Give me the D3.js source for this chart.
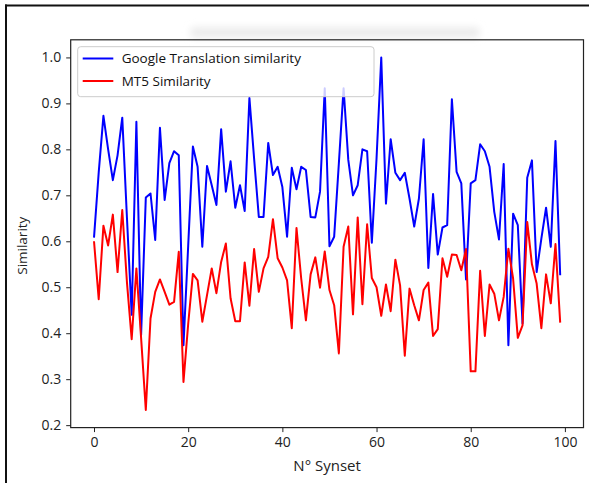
<!DOCTYPE html>
<html>
<head>
<meta charset="utf-8">
<script src="https://cdn.jsdelivr.net/npm/d3@7"></script>
<style>
  html, body { margin: 0; padding: 0; background: #fff; }
  svg { display: block; }
</style>
</head>
<body>
<svg id="chart" width="589" height="483"></svg>
<script>
// ---- data ----
const synsetIndex = d3.range(0, 100);
const googleSimilarity = [
  0.608, 0.75, 0.873, 0.80, 0.733, 0.787, 0.869, 0.65, 0.44, 0.86,
  0.396, 0.695, 0.704, 0.603, 0.847, 0.69, 0.77, 0.796, 0.787, 0.374,
  0.59, 0.806, 0.762, 0.588, 0.764, 0.722, 0.679, 0.844, 0.708, 0.774,
  0.673, 0.722, 0.666, 0.912, 0.78, 0.653, 0.653, 0.814, 0.744, 0.762,
  0.718, 0.61, 0.76, 0.713, 0.762, 0.755, 0.653, 0.652, 0.708, 0.933,
  0.589, 0.61, 0.77, 0.933, 0.777, 0.70, 0.722, 0.80, 0.796, 0.597,
  0.78, 1.0, 0.682, 0.822, 0.749, 0.733, 0.749, 0.693, 0.632, 0.693,
  0.822, 0.542, 0.703, 0.571, 0.63, 0.635, 0.909, 0.751, 0.726, 0.517,
  0.726, 0.733, 0.811, 0.796, 0.762, 0.664, 0.604, 0.768, 0.374, 0.66,
  0.635, 0.421, 0.738, 0.776, 0.533, 0.606, 0.673, 0.588, 0.818, 0.526
];
const mt5Similarity = [
  0.60, 0.474, 0.634, 0.591, 0.658, 0.533, 0.668, 0.51, 0.387, 0.541,
  0.39, 0.233, 0.432, 0.49, 0.517, 0.49, 0.462, 0.468, 0.577, 0.294,
  0.42, 0.529, 0.515, 0.425, 0.483, 0.541, 0.487, 0.555, 0.595, 0.476,
  0.426, 0.426, 0.554, 0.46, 0.583, 0.49, 0.541, 0.566, 0.648, 0.563,
  0.543, 0.515, 0.411, 0.629, 0.519, 0.428, 0.528, 0.565, 0.499, 0.578,
  0.494, 0.461, 0.356, 0.588, 0.632, 0.441, 0.652, 0.463, 0.637, 0.52,
  0.50, 0.438, 0.506, 0.448, 0.56, 0.504, 0.351, 0.497, 0.461, 0.428,
  0.494, 0.51, 0.394, 0.409, 0.563, 0.523, 0.571, 0.57, 0.537, 0.583,
  0.317, 0.317, 0.536, 0.394, 0.506, 0.486, 0.428, 0.479, 0.584, 0.519,
  0.39, 0.417, 0.642, 0.55, 0.508, 0.411, 0.528, 0.465, 0.594, 0.423
];
const xTicks = [0, 20, 40, 60, 80, 100];
const yTicks = [0.2, 0.3, 0.4, 0.5, 0.6, 0.7, 0.8, 0.9, 1.0];
const seriesNames = ["Google Translation similarity", "MT5 Similarity"];
const seriesColors = ["#0000ff", "#ff0000"];
const xLabel = "N° Synset";
const yLabel = "Similarity";

// ---- layout ----
const FONT = "'Open Sans', sans-serif";
const plot = { left: 70.7, right: 583.5, top: 39.8, bottom: 427.6 };
const svg = d3.select("#chart");

// outer image border (top & left)
svg.append("line").attr("x1", 5).attr("x2", 589).attr("y1", 5.5).attr("y2", 5.5)
  .attr("stroke", "#111").attr("stroke-width", 2);
svg.append("line").attr("x1", 6).attr("x2", 6).attr("y1", 4.5).attr("y2", 483)
  .attr("stroke", "#111").attr("stroke-width", 2);

// faint blurred smudge above the plot
const defs = svg.append("defs");
defs.append("filter").attr("id", "blur").attr("x", "-20%").attr("y", "-100%")
  .attr("width", "140%").attr("height", "300%")
  .append("feGaussianBlur").attr("stdDeviation", 3.5);
svg.append("rect").attr("x", 190).attr("y", 27).attr("width", 290).attr("height", 11)
  .attr("rx", 5).attr("fill", "#ececec").attr("filter", "url(#blur)");

// scales with matplotlib-like 5% margins
const allY = googleSimilarity.concat(mt5Similarity);
const [xmin, xmax] = d3.extent(synsetIndex);
const [ymin, ymax] = d3.extent(allY);
const xpad = (xmax - xmin) * 0.05, ypad = (ymax - ymin) * 0.05;
const x = d3.scaleLinear().domain([xmin - xpad, xmax + xpad]).range([plot.left, plot.right]);
const y = d3.scaleLinear().domain([ymin - ypad, ymax + ypad]).range([plot.bottom, plot.top]);

// lines
const lineGen = d3.line().x((d, i) => x(synsetIndex[i])).y(d => y(d));
[googleSimilarity, mt5Similarity].forEach((data, k) => {
  svg.append("path").datum(data)
    .attr("d", lineGen)
    .attr("fill", "none")
    .attr("stroke", seriesColors[k])
    .attr("stroke-width", 2)
    .attr("stroke-linejoin", "round")
    .attr("stroke-linecap", "butt");
});

// axes
const xAxis = svg.append("g").attr("transform", `translate(0,${plot.bottom})`)
  .call(d3.axisBottom(x).tickValues(xTicks).tickSize(4.5).tickPadding(5).tickFormat(d3.format("d")));
const yAxis = svg.append("g").attr("transform", `translate(${plot.left},0)`)
  .call(d3.axisLeft(y).tickValues(yTicks).tickSize(4.5).tickPadding(5).tickFormat(d3.format(".1f")));
[xAxis, yAxis].forEach(g => {
  g.select(".domain").remove();
  g.selectAll(".tick line").attr("stroke", "#222").attr("stroke-width", 1);
  g.selectAll(".tick text").attr("fill", "#222").style("font-family", FONT).style("font-size", "14px");
});

// frame
svg.append("rect").attr("x", plot.left).attr("y", plot.top)
  .attr("width", plot.right - plot.left).attr("height", plot.bottom - plot.top)
  .attr("fill", "none").attr("stroke", "#222").attr("stroke-width", 1.2);

// axis labels
svg.append("text").attr("x", (plot.left + plot.right) / 2 + 0).attr("y", 471)
  .attr("text-anchor", "middle").attr("fill", "#222")
  .style("font-family", FONT).style("font-size", "15px").text(xLabel);
svg.append("text").attr("transform", `translate(27,${(plot.top + plot.bottom) / 2 + 12}) rotate(-90)`)
  .attr("text-anchor", "middle").attr("fill", "#222")
  .style("font-family", FONT).style("font-size", "13.5px").text(yLabel);

// legend
const lg = svg.append("g");
lg.append("rect").attr("x", 77.7).attr("y", 46.7).attr("width", 296.3).attr("height", 50)
  .attr("rx", 3).attr("fill", "#fff").attr("fill-opacity", 0.8)
  .attr("stroke", "#cccccc").attr("stroke-width", 1);
seriesNames.forEach((name, k) => {
  const cy = 58.5 + k * 22.5;
  lg.append("line").attr("x1", 82.7).attr("x2", 113.3).attr("y1", cy).attr("y2", cy)
    .attr("stroke", seriesColors[k]).attr("stroke-width", 2);
  lg.append("text").attr("x", 121.7).attr("y", cy).attr("dy", "0.35em")
    .attr("fill", "#111").style("font-family", FONT).style("font-size", "13.5px")
    .style("font-weight", 500).text(name);
});
</script>
</body>
</html>
